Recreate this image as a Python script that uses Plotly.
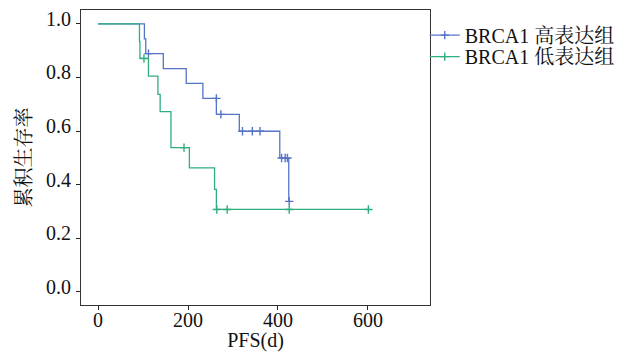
import plotly.graph_objects as go

# ---- data ----
high_t = [0, 103, 106, 145, 196, 233, 263, 314, 404, 424, 425]
high_s = [1.0, 0.944, 0.889, 0.833, 0.778, 0.722, 0.662, 0.599, 0.499, 0.337, 0.337]
high_cens_t = [112, 263, 273, 321, 343, 360, 408, 416, 421, 425]
high_cens_s = [0.889, 0.722, 0.662, 0.599, 0.599, 0.599, 0.499, 0.499, 0.499, 0.337]

low_t = [0, 92, 93, 112, 133, 138, 162, 203, 259, 263, 601]
low_s = [1.0, 0.934, 0.871, 0.805, 0.737, 0.672, 0.538, 0.462, 0.382, 0.307, 0.307]
low_cens_t = [102, 191, 264, 287, 425, 601]
low_cens_s = [0.871, 0.538, 0.307, 0.307, 0.307, 0.307]

group_names = ["BRCA1 高表达组", "BRCA1 低表达组"]
x_ticks = [0, 200, 400, 600]
y_ticks = [0.0, 0.2, 0.4, 0.6, 0.8, 1.0]
y_tick_text = ["0.0", "0.2", "0.4", "0.6", "0.8", "1.0"]

BLUE = "#5674c6"
GREEN = "#2fae7e"
FONT = "Liberation Serif, Noto Serif CJK SC, Noto Sans CJK SC, serif"

fig = go.Figure()

for t, s, ct, cs, name, col, lg in [
    (high_t, high_s, high_cens_t, high_cens_s, group_names[0], BLUE, "legend"),
    (low_t, low_s, low_cens_t, low_cens_s, group_names[1], GREEN, "legend2"),
]:
    fig.add_trace(go.Scatter(x=t, y=s, mode="lines", line=dict(color=col, width=1.3, shape="hv"),
                             showlegend=False, hoverinfo="skip"))
    fig.add_trace(go.Scatter(x=ct, y=cs, mode="markers", showlegend=False,
                             marker=dict(symbol="cross-thin", size=6, line=dict(color=col, width=1.4))))
    fig.add_trace(go.Scatter(x=[None], y=[None], mode="lines+markers", name=name, legend=lg,
                             line=dict(color=col, width=1.3),
                             marker=dict(symbol="cross-thin", size=6, line=dict(color=col, width=1.4))))

leg_common = dict(xanchor="left", yanchor="middle", font=dict(size=20, family=FONT),
                  bgcolor="rgba(0,0,0,0)", itemwidth=30)

fig.update_layout(
    width=621, height=352,
    margin=dict(l=81, r=191, t=10, b=47, autoexpand=False),
    plot_bgcolor="white", paper_bgcolor="white",
    font=dict(family=FONT, size=20, color="#111"),
    showlegend=True,
    legend=dict(x=0.985, y=0.915, **leg_common),
    legend2=dict(x=0.985, y=0.842, **leg_common),
    xaxis=dict(range=[-38, 738], tickvals=x_ticks, ticks="outside", ticklen=4, tickcolor="#222",
               showline=True, linecolor="#333", linewidth=1.2, mirror=True, showgrid=False,
               zeroline=False, tickfont=dict(size=20, family=FONT), ticklabelstandoff=-7,
               title=dict(text="PFS(d)", font=dict(size=20, family=FONT), standoff=22)),
    yaxis=dict(range=[-0.05, 1.052], tickvals=y_ticks, ticktext=y_tick_text, ticks="outside",
               ticklen=4, tickcolor="#222", showline=True, linecolor="#333", linewidth=1.2,
               mirror=True, showgrid=False, zeroline=False, tickfont=dict(size=20, family=FONT),
               ticklabelstandoff=1, ticklabelshift=-5,
               title=dict(text="累积生存率", font=dict(size=20, family=FONT), standoff=8)),
)

fig.write_html("out.html", config={"displayModeBar": False},
               post_script="document.body.style.margin='0';")
